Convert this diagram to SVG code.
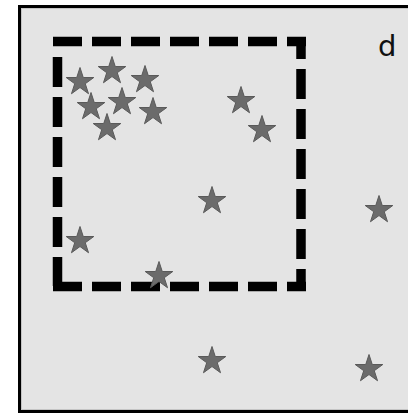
<svg xmlns="http://www.w3.org/2000/svg" width="408" height="414" viewBox="0 0 408 414">
  <defs>
    <style>
      .frame{fill:#e4e4e4;stroke:#000;stroke-width:3}
      .inner{fill:none;stroke:#c4c4c4;stroke-width:1}
      .dash{fill:none;stroke:#000;stroke-width:9.5;stroke-linecap:butt}
      .star{fill:#6b6b6b;stroke:#5a5a5a;stroke-width:1}
      .lbl{font-family:"DejaVu Sans","Liberation Sans",Arial,sans-serif;font-size:29px;fill:#111}
    </style>
    <polygon id="star" points="0,-14.5 3.26,-4.49 13.79,-4.48 5.27,1.71 8.52,11.73 0,5.54 -8.52,11.73 -5.27,1.71 -13.79,-4.48 -3.26,-4.49"/>
  </defs>
  <g id="frame">
    <rect class="frame" x="19.5" y="6.5" width="400" height="405"/>
    <rect class="inner" x="21.5" y="8.5" width="400" height="401"/>
  </g>
  <g id="selection">
    <line class="dash" x1="53" y1="41.5" x2="306" y2="41.5" stroke-dasharray="29 10"/>
    <line class="dash" x1="301" y1="37" x2="301" y2="291" stroke-dasharray="30 10" stroke-dashoffset="8"/>
    <line class="dash" x1="57.5" y1="57" x2="57.5" y2="286" stroke-dasharray="30 10"/>
    <line class="dash" x1="53" y1="286.5" x2="306" y2="286.5" stroke-dasharray="29 10"/>
  </g>
  <g id="stars">
    <use href="#star" class="star" x="80" y="82"/>
    <use href="#star" class="star" x="112" y="71"/>
    <use href="#star" class="star" x="145" y="80"/>
    <use href="#star" class="star" x="91" y="107"/>
    <use href="#star" class="star" x="122" y="102"/>
    <use href="#star" class="star" x="153" y="112"/>
    <use href="#star" class="star" x="107" y="128"/>
    <use href="#star" class="star" x="241" y="101"/>
    <use href="#star" class="star" x="262" y="130"/>
    <use href="#star" class="star" x="212" y="201"/>
    <use href="#star" class="star" x="379" y="210"/>
    <use href="#star" class="star" x="80" y="241"/>
    <use href="#star" class="star" x="159" y="276"/>
    <use href="#star" class="star" x="212" y="361"/>
    <use href="#star" class="star" x="369" y="369"/>
  </g>
  <g id="label">
    <text class="lbl" x="378" y="56">d</text>
  </g>
</svg>
